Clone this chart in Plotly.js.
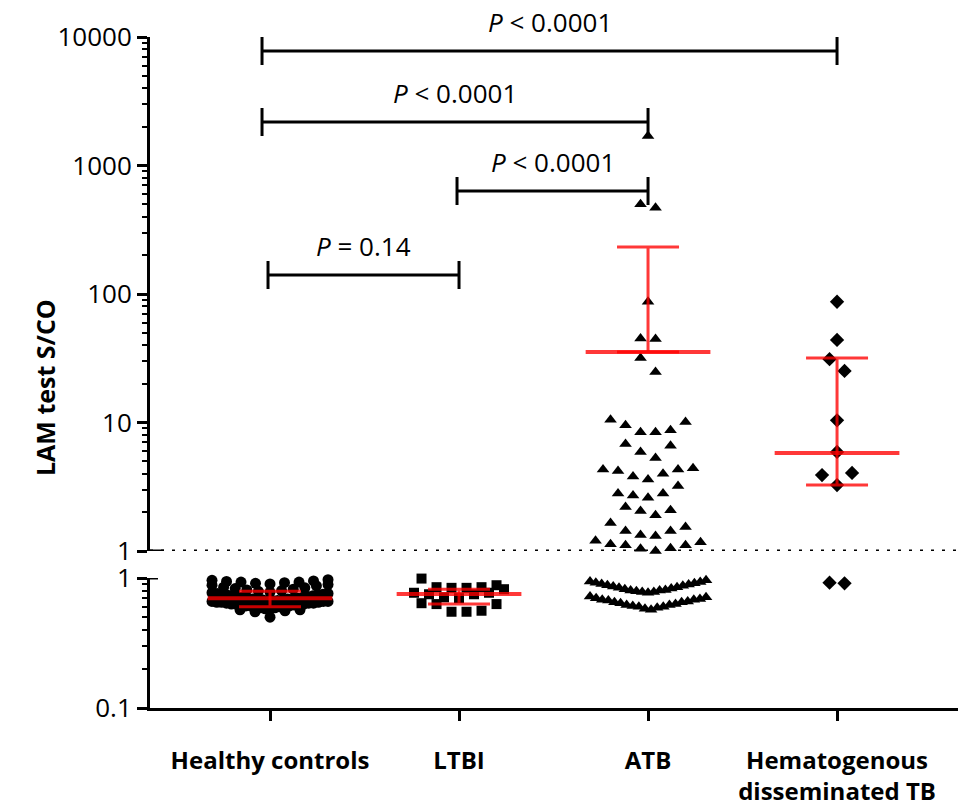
<!DOCTYPE html>
<html><head><meta charset="utf-8">
<script src="https://cdn.plot.ly/plotly-3.0.1.min.js"></script>
<style>body{margin:0;background:#fff;}#chart{width:959px;height:810px;}</style>
</head><body><div id="chart"></div>
<script>
// ---------------- data ----------------
const categories = ['Healthy controls', 'LTBI', 'ATB', 'Hematogenous<br>disseminated TB'];

const healthy = [0.50,
  0.55,0.56,0.57,0.57,0.58,0.58,0.59,0.59,0.60,0.60,0.60,0.61,0.61,0.61,0.62,0.62,0.62,
  0.63,0.63,0.63,0.64,0.64,0.64,0.65,0.65,0.65,0.66,0.66,0.66,0.67,0.67,0.67,0.68,0.68,
  0.68,0.69,0.69,0.69,0.70,0.70,0.71,0.71,0.72,0.72,0.73,0.73,0.74,0.74,0.75,0.75,0.76,
  0.76,0.77,0.78,0.79,0.80,0.81,0.82,0.83,0.84,0.85,0.87,0.88,0.89,0.90,0.91,0.92,0.93,
  0.93,0.94,0.95,0.96,0.97];

const ltbi = [0.99,0.88,0.85,0.84,0.82,0.84,0.85,0.77,0.75,0.75,0.77,0.70,0.71,0.63,0.63,
  0.64,0.56,0.55,0.55];

const atb = [1700, 500, 470, 87, 45, 44.7, 31.8, 24.7,
  10.5,10.1,9.5,8.7,8.4,8.4,6.8,6.6,5.9,5.3,4.4,4.3,4.3,4.2,4.0,3.8,3.6,3.2,
  2.8,2.8,2.7,2.6,2.2,2.08,2.05,1.9,1.65,1.54,1.43,1.43,1.33,1.31,1.2,1.17,1.13,
  1.11,1.11,1.05,1.04,1.0,
  0.96,0.94,0.93,0.92,0.91,0.90,0.89,0.88,0.87,0.86,0.85,0.84,0.83,0.82,0.81,0.80,
  0.80,0.79,0.78,0.78,0.77,
  0.72,0.71,0.70,0.69,0.68,0.68,0.67,0.66,0.65,0.65,0.64,0.63,0.62,0.62,0.61,0.60,
  0.60,0.59,0.58,0.57];

const hemato = [87, 43.9, 31.1, 25.2, 10.4, 5.9, 4.05, 3.9, 3.26, 0.92, 0.91];

// centre line and whiskers (ATB: only the upper whisker is visible)
const centerVals = [0.70, 0.753, 35.4, 5.8];
const upperVals  = [0.79, 0.82, 232, 31.8];
const lowerVals  = [0.60, 0.63, 35.4, 3.26];

// significance comparisons: [group a, group b, label]
const comparisons = [
  [0, 3, '<i>P</i> &lt; 0.0001'],
  [0, 2, '<i>P</i> &lt; 0.0001'],
  [1, 2, '<i>P</i> &lt; 0.0001'],
  [0, 1, '<i>P</i> = 0.14']
];

// ---------------- geometry ----------------
const W = 959, H = 810, ML = 150, MR = 1, MT = 37, MB = 102;
const plotW = W - ML - MR, plotH = H - MT - MB;
const xRange = [-0.635, 3.64];
const pxPerUnit = plotW / (xRange[1] - xRange[0]);
const topDomain = [(708 - 551) / plotH, 1];
const botDomain = [0, (708 - 578) / plotH];
const topPxPerDec = (1 - topDomain[0]) * plotH / 4;
const botPxPerDec = botDomain[1] * plotH / 1;

// row-based scatter-dot arrangement (GraphPad-like)
function swarmX(vals, center, pxPerDec, binPx, sMax, maxW) {
  const order = vals.map((v, i) => i).sort((a, b) => vals[a] - vals[b]);
  const xs = new Array(vals.length);
  let row = [];
  const flush = () => {
    const n = row.length;
    const s = n > 1 ? Math.min(sMax, maxW / (n - 1)) : 0;
    row.forEach((id, k) => {
      let p = k === 0 ? 0 : (k % 2 ? -Math.ceil(k / 2) * s : (k / 2) * s);
      if (n % 2 === 0) p += s / 2;
      xs[id] = center + p / pxPerUnit;
    });
    row = [];
  };
  order.forEach(id => {
    if (row.length && (Math.log10(vals[id]) - Math.log10(vals[row[0]])) * pxPerDec > binPx) flush();
    row.push(id);
  });
  flush();
  return xs;
}

const traces = [];
function addPoints(vals, gi, symbol, size, binPx, sMax) {
  const hi = vals.filter(v => v >= 1), lo = vals.filter(v => v < 1);
  if (hi.length) traces.push({
    type: 'scatter', mode: 'markers', x: swarmX(hi, gi, topPxPerDec, binPx, sMax, 116), y: hi,
    xaxis: 'x', yaxis: 'y', cliponaxis: false,
    marker: {symbol: symbol, size: size, color: '#000', line: {width: 0}}, hoverinfo: 'y'
  });
  if (lo.length) traces.push({
    type: 'scatter', mode: 'markers', x: swarmX(lo, gi, botPxPerDec, binPx, sMax, 116), y: lo,
    xaxis: 'x', yaxis: 'y2', cliponaxis: false,
    marker: {symbol: symbol, size: size, color: '#000', line: {width: 0}}, hoverinfo: 'y'
  });
}
addPoints(healthy, 0, 'circle', 11, 8, 15);
addPoints(ltbi, 1, 'square', 10, 10, 15);
addPoints(atb, 2, 'triangle-up', 11, 15, 15);
addPoints(hemato, 3, 'diamond', 11, 14, 15);

const red = 'rgba(255,0,0,0.78)';
categories.forEach((c, i) => {
  const ya = centerVals[i] >= 1 ? 'y' : 'y2';
  traces.push({
    type: 'scatter', mode: 'lines', x: [i - 0.33, i + 0.33], y: [centerVals[i], centerVals[i]],
    xaxis: 'x', yaxis: ya, line: {color: red, width: 4}, hoverinfo: 'skip', cliponaxis: false
  });
  traces.push({
    type: 'scatter', mode: 'markers', x: [i], y: [centerVals[i]], xaxis: 'x', yaxis: ya,
    marker: {size: 1, color: 'rgba(0,0,0,0)'}, hoverinfo: 'skip', cliponaxis: false,
    error_y: {type: 'data', symmetric: false, array: [upperVals[i] - centerVals[i]],
      arrayminus: [centerVals[i] - lowerVals[i]], color: red, thickness: 3, width: 31}
  });
});

// ---------------- annotations / shapes ----------------
const fontFam = '"Open Sans", "Noto Sans", sans-serif';
const pxToVal = p => Math.pow(10, (551 - p) / topPxPerDec);   // top panel pixel row -> value
const bracketPx = [51, 122, 191, 275];
const bracketLeftShift = [-8, -8, -2, -2];   // px nudges of the left bracket ends
const shapes = [];
const annotations = [];
comparisons.forEach((c, k) => {
  const [a, b, lab] = c;
  const p = bracketPx[k];
  const xa = a + bracketLeftShift[k] / pxPerUnit;
  const y = pxToVal(p), yLo = pxToVal(p + 14), yHi = pxToVal(p - 14);
  const ln = {color: '#000', width: 3};
  shapes.push({type: 'line', xref: 'x', yref: 'y', x0: xa, x1: b, y0: y, y1: y, line: ln});
  shapes.push({type: 'line', xref: 'x', yref: 'y', x0: xa, x1: xa, y0: yLo, y1: yHi, line: ln});
  shapes.push({type: 'line', xref: 'x', yref: 'y', x0: b, x1: b, y0: yLo, y1: yHi, line: ln});
  annotations.push({xref: 'x', yref: 'y', x: (xa + b) / 2, y: Math.log10(y), yshift: 29, text: lab, showarrow: false,
    font: {family: fontFam, size: 26, color: '#000'}, xanchor: 'center', yanchor: 'middle'});
});
// dotted reference line at 1
shapes.push({type: 'line', xref: 'paper', yref: 'y', x0: 0, x1: 1, y0: 1, y1: 1,
  line: {color: '#000', width: 3, dash: '3px,8px'}});
// axis-break caps
shapes.push({type: 'line', xref: 'paper', yref: 'y', x0: 0, x1: 14 / plotW, y0: 1, y1: 1, line: {color: '#000', width: 3}});
shapes.push({type: 'line', xref: 'paper', yref: 'y2', x0: 0, x1: 8 / plotW, y0: 1, y1: 1, line: {color: '#000', width: 3}});

annotations.push({xref: 'paper', yref: 'paper', x: -105 / plotW, y: (708 - 388) / plotH,
  text: '<b>LAM test S/CO</b>', textangle: -90, showarrow: false,
  font: {family: fontFam, size: 25, color: '#000'}, xanchor: 'center', yanchor: 'middle'});

const minorTop = [], minorBot = [];
for (let d = 0; d < 4; d++) for (let m = 2; m <= 9; m++) minorTop.push(m * Math.pow(10, d));
for (let m = 2; m <= 9; m++) minorBot.push(m / 10);

const yCommon = {
  type: 'log', showgrid: false, zeroline: false, showline: true, linecolor: '#000', linewidth: 3,
  ticks: 'outside', ticklen: 10, tickwidth: 3, tickcolor: '#000', tickmode: 'array',
  tickfont: {family: fontFam, size: 26, color: '#000'}, anchor: 'x', fixedrange: true
};

const layout = {
  width: W, height: H, margin: {l: ML, r: MR, t: MT, b: MB},
  paper_bgcolor: '#fff', plot_bgcolor: '#fff', showlegend: false,
  xaxis: {
    range: xRange, anchor: 'y2', showgrid: false, zeroline: false, showline: true, linecolor: '#000', linewidth: 3,
    tickmode: 'array', tickvals: [0, 1, 2, 3], ticktext: categories.map(c => '<b>' + c + '</b>'),
    ticks: 'outside', ticklen: 10, tickwidth: 3, tickcolor: '#000', ticklabelstandoff: 19,
    tickfont: {family: fontFam, size: 24, color: '#000'}, fixedrange: true
  },
  yaxis: Object.assign({}, yCommon, {
    domain: topDomain, range: [0, 4],
    tickvals: [1, 10, 100, 1000, 10000], ticktext: ['1', '10', '100', '1000', '10000'],
    minor: {tickmode: 'array', tickvals: minorTop, ticks: 'outside', ticklen: 5, tickwidth: 2, tickcolor: '#000'}
  }),
  yaxis2: Object.assign({}, yCommon, {
    domain: botDomain, range: [-1, 0],
    tickvals: [0.1, 1], ticktext: ['0.1', '1'],
    minor: {tickmode: 'array', tickvals: minorBot, ticks: 'outside', ticklen: 5, tickwidth: 2, tickcolor: '#000'}
  }),
  shapes: shapes, annotations: annotations
};

Plotly.newPlot('chart', traces, layout, {displayModeBar: false, staticPlot: true});
</script>
</body></html>
